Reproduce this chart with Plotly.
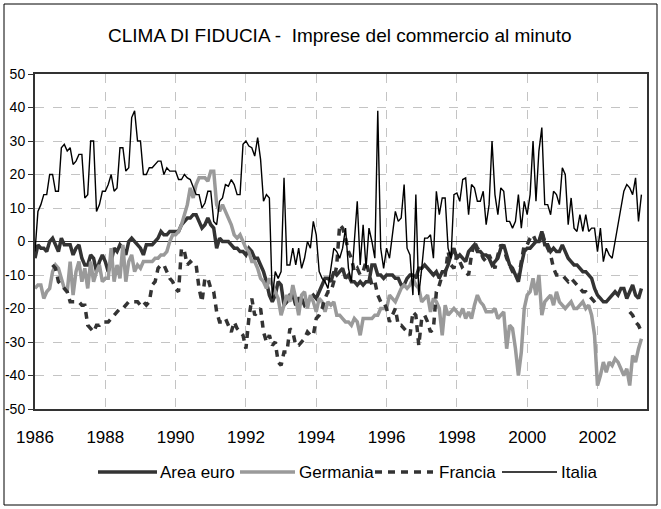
import plotly.graph_objects as go

# ---------------- data (monthly, Jan 1986 .. Apr 2003) ----------------
start_year = 1986

italia = [
    -3, 9, 11, 14, 14, 20, 20, 15, 15, 28, 29, 27,            # 1986
    28, 23, 24, 26, 26, 13, 14, 30, 30, 9, 11, 15,            # 1987
    15, 17, 20, 15, 16, 28, 28, 21, 22, 37, 39, 30,           # 1988
    30, 20, 20, 22, 22, 23, 24, 24, 20, 22, 21, 21,           # 1989
    21, 18.5, 18.5, 20, 19, 18.5, 16, 14, 14, 10, 11.5, 15,   # 1990
    15, 6, 5, 12, 13, 17, 16.5, 18.5, 17, 14, 14, 29,         # 1991
    30, 28.5, 28, 25.5, 31, 24.5, 12, 14, 13, -17, -9, -11,   # 1992
    -9, 19, -7, -7, -2, -7, -2, -8, -5, 0, -2, 6,             # 1993
    2, -9, -11, -12, -14, -8, -2, -3, -5, -2, 4, -8,          # 1994
    -12, 0, 12, -7, 5, -8, 4, 0, -5, 39, -2, -8,              # 1995
    -2, -5, 2, 9, 6, 7, 17, -2, -4, -16, 14, -16,             # 1996
    -8, 1, 1, 2, -5, 15, 8, 13, 13, -2, -5, 14,               # 1997
    14.5, 12, 18.5, 19, 8, 17, 16, 12, 12, 15, 5, 11,         # 1998
    30, 14, 8, 16, 15, 6, 6, 4, 6, 14, 4, 12,                 # 1999
    8, 14, 30, 12, 27, 34, 11, 11, 8, 15, 14, 11,             # 2000
    22, 20, 5, 13, 4, 3, 8, 3, 8, 3, 4, 4,                    # 2001
    -3, 4, -6, -2, -4, -5, 0, 5, 9, 15, 17, 16,               # 2002
    14, 19, 6, 14,                                            # 2003
]

area_euro = [
    -5, -1, -2, -2, -3, 0, 1, -1, -3, 1, -1, -1,
    -1, -4, -2, -1, -5, -7, -7, -4, -5, -9, -6, -4,
    -6, -9, -6, -2, -3, -1, -2, -4, 0, 1, 0, -1,
    -2, -4, -1, -1, -1, 0, 1, 3, 2, 2, 3, 3,
    3, 3, 5, 6, 7, 7, 8, 8, 6, 4, 5, 7,
    5, 4, -2, 1, 0, 0, 0, -1, -2, -2, -3, -3,
    -4, -2, -3, -5, -5, -7, -9, -12, -16, -18, -16, -12,
    -13, -19, -18, -16, -16, -19, -17, -17, -19, -18, -17, -16,
    -17, -15, -13, -11, -11, -12, -9, -10, -9, -8, -11, -10,
    -12, -12, -13, -12, -13, -12, -12, -7, -7, -10, -10, -11,
    -10, -10, -10, -11, -11, -13, -13, -11, -10, -10, -11, -8,
    -8, -7, -8, -9, -10, -9, -11, -9, -9, -7, -4, -2,
    -5, -4, -5, -6, -3, -2, -1, -3, -3, -4, -4, -5,
    -7, -6, -5, -2, -1, -4, -7, -8, -10, -12, -7, -3,
    -2, -2, -1, 0, 0, 3, -1, -1, -3, -2, -3, -3,
    -1, -3, -5, -6, -7, -7, -8, -9, -9, -10, -11, -14,
    -16, -17, -18, -18, -17, -16, -15, -16, -14, -14, -17, -15,
    -13, -16, -17, -14,
]

germania = [
    -14, -13, -13, -17, -15, -14, -9, -7, -8, -11, -14, -15,
    -6, -16, -9, -6, -12, -8, -14, -6, -12, -9, -7, -12,
    -11, -11, -2, -12, -7, -11, -1, -12, -6, -4, -9, -7,
    -8, -6, -6, -6, -6, -5, -5, -4, -4, -3, 0, 2,
    2, 3, 5, 8, 11, 16, 13, 17, 19, 19, 19, 18,
    21, 21, 11, 9, 11, 9, 7, 5, 2, 1, 2, 0,
    -2, -3, -6, -6, -8, -11, -12, -14, -11, -13, -15, -17,
    -22, -19, -16, -18, -13, -17, -22, -16, -15, -20, -16, -18,
    -21, -17, -18, -21, -18, -19, -18, -22, -22, -23, -24, -24,
    -25, -23, -24, -28, -23, -23, -23, -23, -22, -22, -20, -20,
    -20, -16, -17, -18, -16, -14, -13, -14, -13, -11, -13, -14,
    -18, -17, -16, -21, -17, -18, -20, -28, -19, -22, -21, -20,
    -21, -22, -20, -23, -21, -23, -19, -16, -18, -19, -21, -21,
    -21, -20, -23, -22, -21, -32, -25, -26, -32, -40, -33, -20,
    -16, -15, -11, -16, -10, -22, -18, -17, -16, -19, -15, -18,
    -19, -20, -19, -18, -20, -20, -19, -18, -20, -19, -22, -28,
    -43, -40, -36, -39, -36, -37, -35, -36, -38, -40, -38, -43,
    -34, -36, -32, -29,
]

N = None
francia = [
    N, N, N, N, N, N, -7, -8, -12, -13, -14, -15,
    -18, -18, -18, -18, -19, -19, -25, -26, -27, -25, -25, -24,
    -24, -24, -23, -22, -21, -20, -20, -19, -18, -18, -18, -18,
    -19, -18, -19, -18, -13, -12, -8, -7, -7, -9, -11, -12,
    -14, -15, -2, -3, -7, -6, -7, -7, -14, -18, -11, -11,
    -14, -15, -21, -24, -24, -23, -25, -27, -24, -26, -27, -28,
    -32, -23, -17, -22, -21, -20, -27, -30, -28, -31, -30, -36,
    -37, -33, -33, -26, -27, -31, -31, -30, -29, -27, -28, -28,
    -23, -22, -20, -17, -15, -15, -12, -7, 5, 4, 1, -3,
    -5, -9, -8, -10, -9, -6, -10, -13, -12, -16, -18, -18,
    -20, -24, -22, -20, -25, -25, -26, -27, -28, -21, -22, -31,
    -23, -22, -24, -27, -26, -15, -13, -10, -10, -3, -7, -8,
    -4, -6, -8, -9, -10, -4, 0, -2, -3, -5, -6, -4,
    -6, -8, -4, -1, -2, -5, -7, -9, -10, -11, -6, -1,
    -1, 1, 2, 0, -1, 3, 0, -2, -4, -8, -10, -10,
    -10, -11, -12, -11, -12, -13, -14, -15, -15, -16, -17, -18,
    -19, N, N, N, N, N, N, N, N, N, N, -21,
    -22, -24, -25, -27,
]

series_names = ["Area euro", "Germania", "Francia", "Italia"]
x_tick_vals = [1986, 1988, 1990, 1992, 1994, 1996, 1998, 2000, 2002]
x_tick_text = ["1986", "1988", "1990", "1992", "1994", "1996", "1998", "2000", "2002"]
y_tick_vals = [50, 40, 30, 20, 10, 0, -10, -20, -30, -40, -50]
y_tick_text = ["50", "40", "30", "20", "10", "0", "-10", "-20", "-30", "-40", "-50"]
title_text = "CLIMA DI FIDUCIA -  Imprese del commercio al minuto"

dates = [start_year + i / 12 for i in range(len(italia))]

# ---------------- figure ----------------
FONT = "Liberation Sans, Arial, sans-serif"
DARK = "#333333"
GRAY = "#9a9a9a"

styles = {
    "Area euro": dict(color=DARK, width=3.5),
    "Germania": dict(color=GRAY, width=3.5),
    "Francia": dict(color=DARK, width=3.5, dash="7px,6px"),
    "Italia": dict(color="#000000", width=1.4),
}
values = {"Area euro": area_euro, "Germania": germania, "Francia": francia, "Italia": italia}

fig = go.Figure()
for name in series_names:
    fig.add_trace(go.Scatter(x=dates, y=values[name], mode="lines", name=name,
                             line=styles[name], connectgaps=False, showlegend=False))

# plot area in pixels: x 35..647, y 74..409
L, R, T, B = 35, 647, 74, 409
W, H = 661, 509
pw, ph = R - L, B - T


def px(x):
    return (x - L) / pw


def py(y):
    return (B - y) / ph


fig.update_layout(
    width=W, height=H,
    margin=dict(l=L, r=W - R, t=T, b=H - B, pad=0, autoexpand=False),
    paper_bgcolor="white", plot_bgcolor="white",
    font=dict(family=FONT, color="black"),
    showlegend=False,
)

fig.update_xaxes(
    automargin=False,
    range=[1986, 1986 + 208.9 / 12],
    tickmode="array", tickvals=x_tick_vals, ticktext=x_tick_text,
    tickfont=dict(size=17, family=FONT, color="black"),
    ticks="outside", ticklen=12, tickcolor="rgba(0,0,0,0)",
    showgrid=True, gridcolor="#c4c4c4", gridwidth=1, griddash="dash",
    showline=True, linecolor=DARK, linewidth=2, mirror=True,
    zeroline=False,
)
fig.update_yaxes(
    automargin=False,
    range=[-50, 50],
    tickmode="array", tickvals=y_tick_vals, ticktext=y_tick_text,
    tickfont=dict(size=14, family=FONT, color="black"),
    ticks="outside", ticklen=5, tickcolor=DARK, tickwidth=1,
    showgrid=True, gridcolor="#c4c4c4", gridwidth=1, griddash="dash",
    showline=True, linecolor=DARK, linewidth=2, mirror=True,
    zeroline=True, zerolinecolor=DARK, zerolinewidth=1.2,
)

shapes = []
annotations = []

# outer frame
shapes.append(dict(type="rect", xref="paper", yref="paper",
                   x0=px(4), x1=px(657), y0=py(505), y1=py(4),
                   line=dict(color="black", width=1), layer="below"))

# title
annotations.append(dict(text=title_text, xref="paper", yref="paper",
                        x=px(340), y=py(35), xanchor="center", yanchor="middle",
                        showarrow=False, font=dict(size=19, family=FONT, color="black")))

# custom legend (sample start, sample end, text left) in pixels
ly = py(472)
legend_items = [
    ("Area euro", 98, 157, 158),
    ("Germania", 240, 295, 297),
    ("Francia", 375, 433, 437),
    ("Italia", 502, 557, 559),
]
for name, x0, x1, tx in legend_items:
    st = styles[name]
    line = dict(color=st["color"], width=st["width"])
    if "dash" in st:
        line["dash"] = st["dash"]
    shapes.append(dict(type="line", xref="paper", yref="paper",
                       x0=px(x0), x1=px(x1), y0=ly, y1=ly, line=line))
    annotations.append(dict(text=name, xref="paper", yref="paper",
                            x=px(tx), y=ly, xanchor="left", yanchor="middle",
                            showarrow=False, font=dict(size=17, family=FONT, color="black")))

fig.update_layout(shapes=shapes, annotations=annotations)

fig.write_html(
    "out.html",
    config={"displayModeBar": False},
    post_script="document.body.style.margin='0';document.body.style.padding='0';",
)
